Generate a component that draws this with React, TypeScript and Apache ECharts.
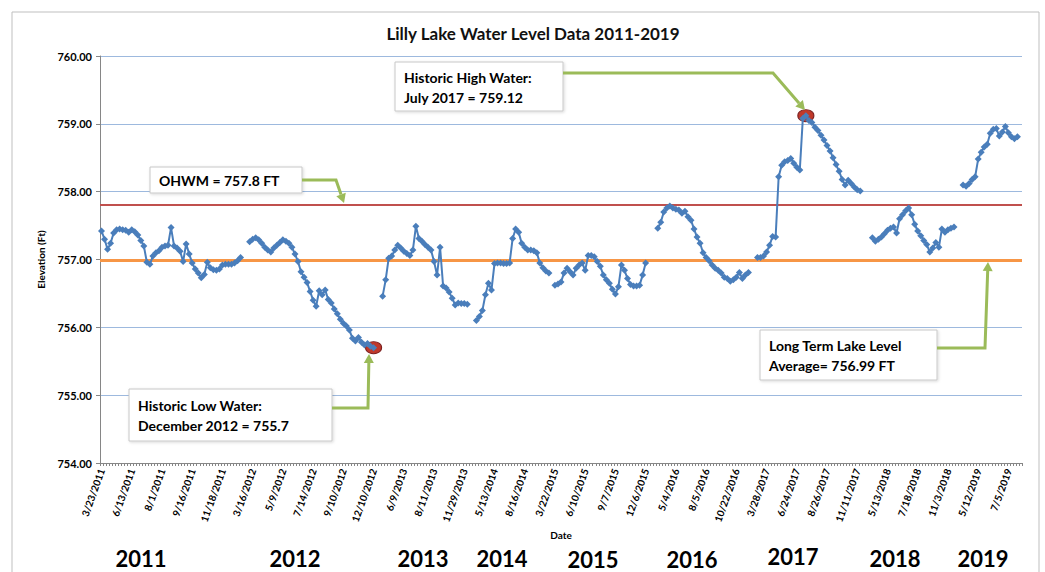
import React, { useEffect, useRef } from "react";
import * as echarts from "echarts";

// ---------- DATA ----------
const chartTitle = "Lilly Lake Water Level Data 2011-2019";

const dateLabels = [
  "3/23/2011", "6/13/2011", "8/1/2011", "9/16/2011", "11/18/2011",
  "3/16/2012", "5/9/2012", "7/14/2012", "9/10/2012", "12/10/2012",
  "6/9/2013", "8/11/2013", "11/29/2013", "5/13/2014", "8/16/2014",
  "3/22/2015", "6/10/2015", "9/7/2015", "12/6/2015", "5/4/2016",
  "8/5/2016", "10/22/2016", "3/28/2017", "6/24/2017", "8/26/2017",
  "11/11/2017", "5/13/2018", "7/18/2018", "11/3/2018", "5/12/2019",
  "7/5/2019",
];
const labelEvery = 10;
const categoryCount = 305;

const levels2011 = [
  757.42, 757.30, 757.15, 757.24, 757.39, 757.44, 757.45, 757.44, 757.43, 757.40,
  757.44, 757.41, 757.36, 757.28, 757.20, 756.96, 756.93, 757.05, 757.10, 757.13,
  757.18, 757.20, 757.21, 757.47, 757.20, 757.17, 757.12, 756.97, 757.23, 757.08,
  756.95, 756.86, 756.80, 756.73, 756.78, 756.96, 756.88, 756.85, 756.84, 756.86,
  756.92, 756.93, 756.93, 756.93, 756.95, 756.98, 757.03,
];
const levels2012 = [
  757.26, 757.30, 757.32, 757.29, 757.24, 757.18, 757.14, 757.11, 757.17, 757.21,
  757.25, 757.29, 757.27, 757.24, 757.18, 757.08, 756.97, 756.82, 756.74, 756.66,
  756.53, 756.40, 756.31, 756.54, 756.48, 756.55, 756.41, 756.36, 756.27, 756.20,
  756.12, 756.06, 756.02, 755.96, 755.84, 755.80, 755.85, 755.78, 755.74, 755.76,
  755.72, 755.70,
];
const levels2013 = [
  756.46, 756.70, 757.02, 757.05, 757.14, 757.21, 757.17, 757.12, 757.09, 757.06,
  757.14, 757.49, 757.31, 757.27, 757.22, 757.18, 757.14, 756.97, 756.77, 757.18,
  756.61, 756.58, 756.52, 756.43, 756.33, 756.36, 756.35, 756.35, 756.34,
];
const levels2014 = [
  756.10, 756.16, 756.25, 756.48, 756.65, 756.55, 756.94, 756.95, 756.95, 756.94,
  756.94, 756.95, 757.31, 757.45, 757.40, 757.24, 757.18, 757.14, 757.14, 757.13,
  757.10, 756.95, 756.88, 756.83, 756.80,
];
const levels2015 = [
  756.62, 756.64, 756.67, 756.80, 756.87, 756.82, 756.77, 756.87, 756.92, 756.95,
  756.84, 757.06, 757.06, 757.04, 756.97, 756.90, 756.77, 756.70, 756.65, 756.56,
  756.49, 756.60, 756.92, 756.84, 756.72, 756.63, 756.61, 756.61, 756.62, 756.77,
  756.95,
];
const levels2016 = [
  757.46, 757.55, 757.70, 757.76, 757.79, 757.76, 757.74, 757.73, 757.68, 757.71,
  757.63, 757.58, 757.45, 757.33, 757.24, 757.10, 757.03, 756.98, 756.92, 756.87,
  756.84, 756.80, 756.74, 756.72, 756.68, 756.70, 756.74, 756.81, 756.72, 756.77,
  756.81,
];
const levels2017 = [
  757.03, 757.03, 757.05, 757.11, 757.21, 757.34, 757.33, 758.22, 758.39, 758.44,
  758.46, 758.49, 758.42, 758.36, 758.32, 759.08, 759.12, 759.05, 759.02, 758.95,
  758.90, 758.83, 758.76, 758.68, 758.60, 758.50, 758.40, 758.30, 758.18, 758.10,
  758.17, 758.12, 758.07, 758.03, 758.01,
];
const levels2018 = [
  757.32, 757.27, 757.30, 757.33, 757.38, 757.43, 757.46, 757.48, 757.39, 757.60,
  757.66, 757.72, 757.76, 757.66, 757.52, 757.42, 757.35, 757.28, 757.22, 757.11,
  757.17, 757.25, 757.18, 757.45, 757.40, 757.44, 757.46, 757.48,
];
const levels2019 = [
  758.10, 758.08, 758.12, 758.18, 758.22, 758.48, 758.58, 758.66, 758.70, 758.86,
  758.92, 758.93, 758.82, 758.88, 758.96, 758.87, 758.81, 758.78, 758.81,
];
// missing readings between the yearly runs
const gapsAfter = [2, 2, 2, 1, 3, 2, 3, 2, 1];

const ohwmLevel = 757.8;
const averageLevel = 756.99;

const yearLabels = ["2011", "2012", "2013", "2014", "2015", "2016", "2017", "2018", "2019"];

// ---------- BUILD ----------
const runs = [levels2011, levels2012, levels2013, levels2014, levels2015, levels2016, levels2017, levels2018, levels2019];
const seriesData: (number | null)[] = [];
runs.forEach((r, i) => {
  r.forEach((v) => seriesData.push(v));
  for (let k = 0; k < gapsAfter[i]; k++) seriesData.push(null);
});
while (seriesData.length < categoryCount) seriesData.push(null);
const categories = Array.from({ length: categoryCount }, (_, i) => String(i));

const GREEN = "#9BBB59";

function arrow(points: number[][]) {
  const n = points.length;
  const tip = points[n - 1];
  const prev = points[n - 2];
  const dx = tip[0] - prev[0];
  const dy = tip[1] - prev[1];
  const len = Math.sqrt(dx * dx + dy * dy);
  const ux = dx / len, uy = dy / len;
  const px = -uy, py = ux;
  const hl = 9, hw = 5;
  const bx = tip[0] - ux * hl, by = tip[1] - uy * hl;
  const linePts = points.slice(0, n - 1).concat([[bx, by]]);
  return [
    { type: "polyline", shape: { points: linePts }, style: { stroke: GREEN, lineWidth: 3, fill: null }, z: 100 },
    {
      type: "polygon",
      shape: { points: [tip, [bx + px * hw, by + py * hw], [bx - px * hw, by - py * hw]] },
      style: { fill: GREEN },
      z: 100,
    },
  ];
}

function box(x: number, y: number, w: number, h: number, lines: string[], lineY: number[]) {
  const els: any[] = [
    {
      type: "rect",
      shape: { x, y, width: w, height: h },
      style: { fill: "#fff", stroke: "#C8C8C8", lineWidth: 1, shadowBlur: 3, shadowColor: "rgba(0,0,0,0.15)", shadowOffsetX: 1, shadowOffsetY: 1 },
      z: 100,
    },
  ];
  lines.forEach((t, i) => {
    els.push({
      type: "text",
      x: x + 9,
      y: lineY[i],
      style: { text: t, fontFamily: "Lato", fontWeight: "bold", fontSize: 14, fill: "#000", verticalAlign: "middle" },
      z: 101,
    });
  });
  return els;
}

const yearX = [141, 295, 423, 502, 593, 692, 793, 895, 983];
const yearY = [558, 558, 558, 558, 559, 559, 556, 558, 558];

export default function App() {
  const ref = useRef<HTMLDivElement>(null);
  useEffect(() => {
    if (!ref.current) return;
    const chart = echarts.init(ref.current, null, { renderer: "svg" });
    const graphic: any[] = [
      {
        type: "rect",
        shape: { x: 12, y: 12, width: 1027, height: 600 },
        style: { fill: "none", stroke: "#BFBFBF", lineWidth: 1 },
        z: -10,
      },
      ...box(150, 167, 152, 26, ["OHWM = 757.8 FT"], [180]),
      ...arrow([[302, 180], [336, 180], [344, 203]]),
      ...box(129, 389, 203, 52, ["Historic Low Water:", "December 2012 = 755.7"], [405, 425]),
      ...arrow([[332, 408], [368, 408], [369, 354]]),
      ...box(395, 62, 168, 49, ["Historic High Water:", "July 2017 = 759.12"], [77, 97]),
      ...arrow([[563, 73], [773, 73], [805, 110]]),
      ...box(760, 330, 177, 50, ["Long Term Lake Level", "Average= 756.99 FT"], [345, 365]),
      ...arrow([[937, 348], [985, 348], [988, 262]]),
      ...yearLabels.map((t, i) => ({
        type: "text",
        x: yearX[i],
        y: yearY[i],
        style: { text: t, fontFamily: "Lato", fontWeight: "bold", fontSize: 22, fill: "#000", align: "center", verticalAlign: "middle" },
      })),
    ];
    chart.setOption({
      animation: false,
      backgroundColor: "#fff",
      textStyle: { fontFamily: "Lato" },
      title: {
        text: chartTitle,
        left: 528,
        textAlign: "center",
        top: 20,
        textStyle: { fontFamily: "Lato", fontSize: 17, fontWeight: "bold", color: "#111" },
      },
      grid: { left: 100, right: 23, top: 56, bottom: 109 },
      xAxis: {
        type: "category",
        data: categories,
        boundaryGap: true,
        name: "Date",
        nameLocation: "middle",
        nameGap: 67,
        nameMoveOverlap: false,
        nameTextStyle: { fontFamily: "Lato", fontWeight: "bold", fontSize: 10, color: "#000" },
        axisLine: { lineStyle: { color: "#868686" } },
        axisTick: { show: true, interval: 0, length: 3, lineStyle: { color: "#868686" } },
        axisLabel: {
          interval: labelEvery - 1,
          rotate: 70,
          fontSize: 10,
          fontWeight: "bold",
          color: "#000",
          margin: 6,
          formatter: (v: string) => {
            const i = Number(v);
            return i % labelEvery === 0 ? dateLabels[i / labelEvery] ?? "" : "";
          },
        },
        splitLine: { show: false },
      },
      yAxis: {
        type: "value",
        min: 754,
        max: 760,
        interval: 1,
        name: "Elevation (Ft)",
        nameLocation: "middle",
        nameGap: 54,
        nameRotate: 90,
        nameMoveOverlap: false,
        nameTextStyle: { fontFamily: "Lato", fontWeight: "bold", fontSize: 10, color: "#000" },
        axisLine: { show: true, lineStyle: { color: "#868686" } },
        axisTick: { show: true, length: 4, lineStyle: { color: "#868686" } },
        axisLabel: {
          formatter: (v: number) => v.toFixed(2),
          fontSize: 11,
          fontWeight: "bold",
          color: "#000",
          margin: 8,
        },
        splitLine: { lineStyle: { color: "#9DB9DE", width: 1 } },
      },
      series: [
        {
          type: "line",
          data: seriesData,
          connectNulls: false,
          showAllSymbol: true,
          symbol: "diamond",
          symbolSize: 7,
          lineStyle: { width: 2, color: "#4A7EBB" },
          itemStyle: { color: "#4A7EBB" },
          z: 5,
          markLine: {
            silent: true,
            symbol: "none",
            label: { show: false },
            z: 3,
            data: [
              { yAxis: ohwmLevel, lineStyle: { color: "#C0504D", width: 2, type: "solid" } },
              { yAxis: averageLevel, lineStyle: { color: "#F79646", width: 3, type: "solid" } },
            ],
          },
          markPoint: {
            symbol: "circle",
            symbolSize: [16, 12],
            label: { show: false },
            itemStyle: { color: "#C0392B", borderColor: "#7B1F1F", borderWidth: 1 },
            data: [{ type: "max" }, { type: "min" }],
          },
        },
      ],
      graphic,
    });
    return () => chart.dispose();
  }, []);
  return (
    <div
      ref={ref}
      style={{ position: "fixed", left: 0, top: 0, width: 1045, height: 572 }}
    />
  );
}
